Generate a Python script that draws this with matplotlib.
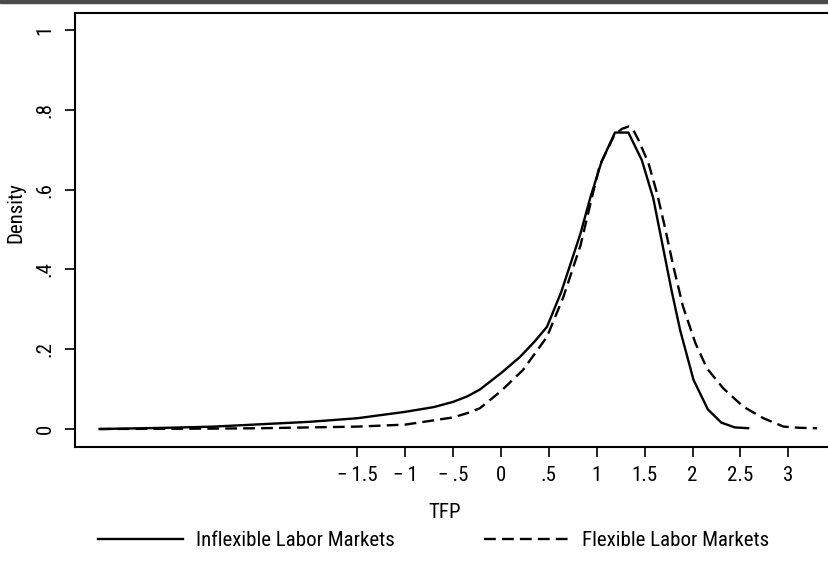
import matplotlib.pyplot as plt
from matplotlib.patches import Rectangle

plt.rcParams['font.family'] = ['Roboto Condensed', 'Roboto', 'DejaVu Sans']

# Estimated kernel density of TFP, inflexible labour markets
tfp_inflex = [-4.19, -3.5, -3.0, -2.5, -2.0, -1.5, -1.0, -0.7, -0.5, -0.35, -0.22, 0.0, 0.2, 0.35,
              0.48, 0.63, 0.83, 0.93, 1.05, 1.19, 1.33, 1.47, 1.59, 1.69, 1.78, 1.87, 2.01, 2.16,
              2.30, 2.44, 2.58]
dens_inflex = [0.000, 0.003, 0.006, 0.012, 0.018, 0.027, 0.043, 0.055, 0.068, 0.082, 0.099, 0.140,
               0.181, 0.219, 0.256, 0.344, 0.490, 0.578, 0.670, 0.743, 0.743, 0.674, 0.578, 0.457,
               0.348, 0.248, 0.123, 0.049, 0.016, 0.004, 0.002]

# Estimated kernel density of TFP, flexible labour markets
tfp_flex = [-4.19, -3.0, -2.5, -2.0, -1.5, -1.0, -0.5, -0.35, -0.22, 0.0, 0.23, 0.48, 0.65, 0.83,
            0.96, 1.03, 1.18, 1.26, 1.33, 1.38, 1.44, 1.54, 1.63, 1.71, 1.80, 1.90, 2.03, 2.15,
            2.32, 2.53, 2.74, 2.95, 3.12, 3.30]
dens_flex = [0.000, 0.001, 0.002, 0.004, 0.006, 0.011, 0.029, 0.040, 0.052, 0.095, 0.148, 0.231,
             0.330, 0.460, 0.591, 0.660, 0.735, 0.752, 0.758, 0.750, 0.722, 0.666, 0.590, 0.507,
             0.407, 0.307, 0.215, 0.152, 0.102, 0.056, 0.027, 0.006, 0.003, 0.002]

x_ticks = [-1.5, -1, -0.5, 0, 0.5, 1, 1.5, 2, 2.5, 3]
x_ticklabels = ['\u2212\u20091.5', '\u2212\u20091', '\u2212\u2009.5', '0', '.5', '1', '1.5', '2', '2.5', '3']
y_ticks = [0, 0.2, 0.4, 0.6, 0.8, 1.0]
y_ticklabels = ['0', '.2', '.4', '.6', '.8', '1']

fig = plt.figure(figsize=(8.29, 5.63), dpi=100)
ax = fig.add_axes([75 / 829, 1 - 447 / 563, 758 / 829, 434.5 / 563])

l1, = ax.plot(tfp_inflex, dens_inflex, color='black', lw=1.7, label='Inflexible Labor Markets')
l2, = ax.plot(tfp_flex, dens_flex, color='black', lw=1.7, dashes=(5, 2.6),
              label='Flexible Labor Markets')

ax.set_xlim(-4.447, 3.466)
ax.set_ylim(-0.0451, 1.0439)
ax.set_xticks(x_ticks)
ax.set_xticklabels(x_ticklabels)
ax.set_yticks(y_ticks)
ax.set_yticklabels(y_ticklabels, rotation=90, va='center')
ax.tick_params(axis='both', length=7.5, width=1.2, labelsize=15, pad=6)
ax.tick_params(axis='y', pad=7)

for side in ['left', 'bottom', 'top']:
    ax.spines[side].set_linewidth(1.5)
ax.spines['right'].set_visible(False)

ax.set_xlabel('TFP', fontsize=15)
ax.xaxis.set_label_coords(0.488, -0.128)
ax.set_ylabel('Density', fontsize=15)
ax.yaxis.set_label_coords(-0.066, 0.539)

fig.legend(handles=[l1, l2], ncol=2, loc='center left', bbox_to_anchor=(98 / 829, 1 - 541 / 563),
           frameon=False, fontsize=15, handlelength=4.1, handletextpad=0.6,
           columnspacing=4.3, borderpad=0, borderaxespad=0)

# dark rule across the top edge
fig.patches.append(Rectangle((0, 1 - 2.5 / 563), 1, 2.5 / 563, transform=fig.transFigure,
                             color='#4a4a4a', zorder=5))

fig.savefig('out.png', dpi=100)
